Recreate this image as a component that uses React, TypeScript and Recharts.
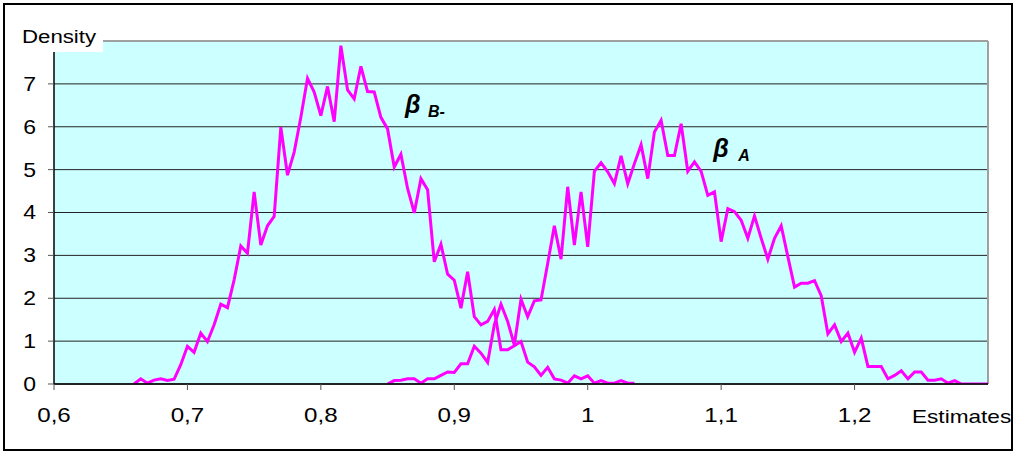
import React from 'react';
import { LineChart, Line, XAxis, YAxis, CartesianGrid, ReferenceLine, ReferenceDot } from 'recharts';

const betaBx = [
  0.66, 0.665, 0.67, 0.675, 0.68, 0.685, 0.69, 0.695, 0.7, 0.705,
  0.71, 0.715, 0.72, 0.725, 0.73, 0.735, 0.74, 0.745, 0.75, 0.755,
  0.76, 0.765, 0.77, 0.775, 0.78, 0.785, 0.79, 0.795, 0.8, 0.805,
  0.81, 0.815, 0.82, 0.825, 0.83, 0.835, 0.84, 0.845, 0.85, 0.855,
  0.86, 0.865, 0.87, 0.875, 0.88, 0.885, 0.89, 0.895, 0.9, 0.905,
  0.91, 0.915, 0.92, 0.925, 0.93, 0.935, 0.94, 0.945, 0.95, 0.955,
  0.96, 0.965, 0.97, 0.975, 0.98, 0.985, 0.99, 0.995, 1.0, 1.005,
  1.01, 1.015, 1.02, 1.025, 1.03, 1.035,
];
const betaBy = [
  0, 0.12, 0.02, 0.09, 0.12, 0.08, 0.11, 0.45, 0.88, 0.74,
  1.19, 0.99, 1.38, 1.86, 1.78, 2.43, 3.22, 3.05, 4.48, 3.24,
  3.69, 3.91, 5.99, 4.87, 5.41, 6.22, 7.13, 6.81, 6.26, 6.94,
  6.12, 7.89, 6.86, 6.65, 7.41, 6.82, 6.81, 6.22, 5.95, 5.06,
  5.36, 4.56, 3.99, 4.79, 4.53, 2.85, 3.26, 2.56, 2.42, 1.77,
  2.62, 1.57, 1.38, 1.46, 1.74, 0.8, 0.8, 0.89, 0.99, 0.51,
  0.4, 0.2, 0.39, 0.12, 0.09, 0.02, 0.19, 0.12, 0.19, 0.02,
  0.08, 0.02, 0.02, 0.08, 0.02, 0.02,
];

const betaAx = [
  0.85, 0.855, 0.86, 0.865, 0.87, 0.875, 0.88, 0.885, 0.89, 0.895,
  0.9, 0.905, 0.91, 0.915, 0.92, 0.925, 0.93, 0.935, 0.94, 0.945,
  0.95, 0.955, 0.96, 0.965, 0.97, 0.975, 0.98, 0.985, 0.99, 0.995,
  1.0, 1.005, 1.01, 1.015, 1.02, 1.025, 1.03, 1.035, 1.04, 1.045,
  1.05, 1.055, 1.06, 1.065, 1.07, 1.075, 1.08, 1.085, 1.09, 1.095,
  1.1, 1.105, 1.11, 1.115, 1.12, 1.125, 1.13, 1.135, 1.14, 1.145,
  1.15, 1.155, 1.16, 1.165, 1.17, 1.175, 1.18, 1.185, 1.19, 1.195,
  1.2, 1.205, 1.21, 1.215, 1.22, 1.225, 1.23, 1.235, 1.24, 1.245,
  1.25, 1.255, 1.26, 1.265, 1.27, 1.275, 1.28, 1.285, 1.29, 1.295,
  1.3,
];
const betaAy = [
  0, 0.08, 0.09, 0.12, 0.12, 0.02, 0.12, 0.12, 0.2, 0.28,
  0.27, 0.47, 0.47, 0.88, 0.72, 0.5, 1.38, 1.86, 1.46, 0.91,
  1.98, 1.57, 1.94, 1.96, 2.81, 3.69, 2.91, 4.6, 3.24, 4.48,
  3.2, 4.96, 5.16, 4.95, 4.67, 5.32, 4.67, 5.14, 5.58, 4.79,
  5.88, 6.15, 5.33, 5.33, 6.07, 4.96, 5.18, 4.96, 4.4, 4.48,
  3.32, 4.09, 4.02, 3.82, 3.4, 3.92, 3.4, 2.91, 3.4, 3.69,
  2.97, 2.26, 2.35, 2.35, 2.41, 2.06, 1.17, 1.38, 0.99, 1.19,
  0.74, 1.07, 0.41, 0.41, 0.41, 0.12, 0.2, 0.31, 0.12, 0.28,
  0.28, 0.09, 0.09, 0.12, 0.02, 0.08, 0, 0, 0, 0,
  0,
];

const xTicks = [0.6, 0.7, 0.8, 0.9, 1, 1.1, 1.2];
const yTicks = [0, 1, 2, 3, 4, 5, 6, 7];

const dataB = betaBx.map((x, i) => ({ x, y: betaBy[i] }));
const dataA = betaAx.map((x, i) => ({ x, y: betaAy[i] }));

const FONT = '"Liberation Sans", Arial, sans-serif';
const SX = 1.15;
const LINE_COLOR = '#FF00FF';

const fmt = (v: number) => String(v).replace('.', ',');

const XTick = (props: any) => {
  const { x, y, payload } = props;
  return (
    <text
      x={x}
      y={y}
      dy={32}
      textAnchor="middle"
      fontSize={21}
      fontFamily={FONT}
      fill="#000"
      transform={`translate(${x} 0) scale(${SX} 1) translate(${-x} 0)`}
    >
      {fmt(payload.value)}
    </text>
  );
};

const YTick = (props: any) => {
  const { x, y, payload } = props;
  return (
    <text
      x={x}
      y={y}
      dy={7}
      textAnchor="end"
      fontSize={20}
      fontFamily={FONT}
      fill="#000"
      transform={`translate(${x} 0) scale(${SX} 1) translate(${-x} 0)`}
    >
      {payload.value}
    </text>
  );
};

const betaLabel = (sub: string, subDx: number) => (props: any) => {
  const { cx, cy } = props;
  return (
    <text
      x={cx}
      y={cy}
      fontFamily={FONT}
      fontStyle="italic"
      fontWeight="bold"
      fill="#000"
      fontSize={25}
    >
      β
      <tspan x={cx + subDx} dy={4} fontSize={16}>
        {sub}
      </tspan>
    </text>
  );
};

export default function App() {
  return (
    <div style={{ position: 'absolute', left: 0, top: 0, width: 1018, height: 455, background: '#fff' }}>
      <div
        style={{
          position: 'absolute',
          left: 3,
          top: 3,
          width: 1010,
          height: 448,
          border: '2px solid #000',
          boxSizing: 'border-box',
        }}
      />
      <div style={{ position: 'absolute', left: 0, top: 0 }}>
        <LineChart width={1018} height={455} margin={{ top: 41, right: 30, bottom: 0, left: 0 }}>
          <CartesianGrid fill="#CCFFFF" vertical={false} stroke="#222" strokeWidth={1} />
          <XAxis
            type="number"
            dataKey="x"
            domain={[0.6, 1.3]}
            ticks={xTicks}
            height={71}
            tickSize={6}
            tickMargin={0}
            tick={<XTick />}
            axisLine={{ stroke: '#000', strokeWidth: 1.5 }}
            tickLine={{ stroke: '#555' }}
            allowDataOverflow
          />
          <YAxis
            type="number"
            domain={[0, 8]}
            ticks={yTicks}
            width={54}
            tickSize={6}
            tickMargin={12}
            tick={<YTick />}
            axisLine={{ stroke: '#000', strokeWidth: 1.5 }}
            tickLine={{ stroke: '#555' }}
            allowDataOverflow
          />
          <ReferenceLine y={8} stroke="#a0a0a0" strokeWidth={2} />
          <ReferenceLine x={1.3} stroke="#a0a0a0" strokeWidth={2} />
          <Line
            data={dataB}
            dataKey="y"
            type="linear"
            stroke={LINE_COLOR}
            strokeWidth={3}
            dot={false}
            isAnimationActive={false}
          />
          <Line
            data={dataA}
            dataKey="y"
            type="linear"
            stroke={LINE_COLOR}
            strokeWidth={3}
            dot={false}
            isAnimationActive={false}
          />
          <ReferenceDot x={0.863} y={6.32} r={1} ifOverflow="visible" shape={betaLabel('B-', 23)} />
          <ReferenceDot x={1.094} y={5.29} r={1} ifOverflow="visible" shape={betaLabel('A', 25)} />
        </LineChart>
      </div>
      <svg
        width={1018}
        height={455}
        style={{ position: 'absolute', left: 0, top: 0, pointerEvents: 'none' }}
      >
        <rect x={18} y={18} width={85} height={34} fill="#fff" />
        <text
          x={22}
          y={43}
          fontSize={19}
          fontFamily={FONT}
          fill="#000"
          transform={`translate(22 0) scale(1.17 1) translate(-22 0)`}
        >
          Density
        </text>
        <text
          x={912}
          y={423}
          fontSize={19}
          fontFamily={FONT}
          fill="#000"
          transform={`translate(912 0) scale(1.19 1) translate(-912 0)`}
        >
          Estimates
        </text>
      </svg>
    </div>
  );
}
